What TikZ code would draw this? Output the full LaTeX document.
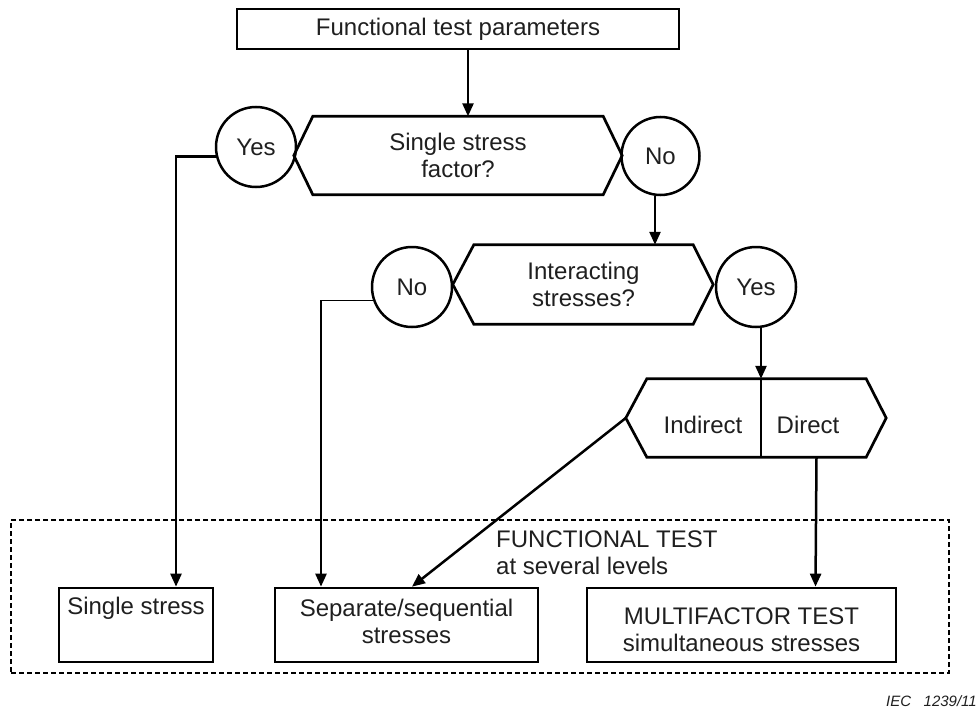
\documentclass[tikz,border=0pt]{standalone}
\usepackage{fontspec}
\setmainfont{Liberation Sans}
\usetikzlibrary{arrows.meta}
\begin{document}
\begin{tikzpicture}[x=1pt,y=-1pt,
  every node/.style={font=\fontsize{24}{27}\selectfont, inner sep=0pt, text=black!88},
  box/.style={draw, rectangle, line width=2.7pt},
  hexbody/.style={rectangle, align=center, minimum height=78},
  shapeline/.style={line width=2.7pt, line join=miter},
  answer/.style={draw, circle, line width=2.5pt, minimum size=80},
  txt/.style={align=center},
  arr/.style={line width=2.5pt, -{Triangle[length=13pt,width=11pt]}},
  link/.style={line width=2.5pt},
  thinlink/.style={line width=1.4pt},
  frame/.style={draw, rectangle, line width=2.2pt, dash pattern=on 5pt off 3pt}
]
\useasboundingbox (0,0) rectangle (979,709);

% start box
\node[box, minimum width=442, minimum height=40] (top) at (458,29) {Functional test parameters};

% first decision
\node[hexbody, minimum width=290] (h1) at (458,155.5) {Single stress\\factor?};
\draw[shapeline] (h1.north west) -- (h1.north east) -- ([xshift=19pt]h1.east)
  -- (h1.south east) -- (h1.south west) -- ([xshift=-19pt]h1.west) -- cycle;
\node[answer] (yes1) at (256,147) {Yes};
\node[answer, minimum size=78] (no1) at (660.5,156) {No};

% second decision
\node[hexbody, minimum width=219, minimum height=79] (h2) at (583.5,284.5) {Interacting\\stresses?};
\draw[shapeline] (h2.north west) -- (h2.north east) -- ([xshift=20pt]h2.east)
  -- (h2.south east) -- (h2.south west) -- ([xshift=-21pt]h2.west) -- cycle;
\node[answer] (no2) at (412,287) {No};
\node[answer] (yes2) at (756,287) {Yes};

% indirect / direct split
\node[hexbody, minimum width=219] (h3) at (756.5,418) {};
\draw[shapeline] (h3.north west) -- (h3.north east) -- ([xshift=20pt]h3.east)
  -- (h3.south east) -- (h3.south west) -- ([xshift=-21pt]h3.west) -- cycle;
\coordinate (h3tip) at ([xshift=-21pt]h3.west);
\draw[thinlink] ([xshift=4.5pt]h3.north) -- ([xshift=4.5pt]h3.south);
\node[anchor=base] (ind) at (703,433) {Indirect};
\node[anchor=base] (dir) at (808,433) {Direct};

% outcome group
\node[frame, minimum width=938, minimum height=153] (grp) at (480,596.5) {};
\node[txt, align=left, anchor=west] (grpt) at (496,552.5) {FUNCTIONAL TEST\\at several levels};

\node[box, minimum width=154, minimum height=74] (s1) at (136,625) {};
\node[txt] (s1t) at (136,608.5) {Single stress};
\node[box, minimum width=263, minimum height=74] (s2) at (406.5,625) {};
\node[txt] (s2t) at (406.5,621.5) {Separate/sequential\\stresses};
\node[box, minimum width=309, minimum height=74] (s3) at (741.5,625) {};
\node[txt] (s3t) at (741.5,630) {MULTIFACTOR TEST\\simultaneous stresses};

% connectors
\draw[arr] ([xshift=10pt]top.south) -- ([xshift=10pt]top.south |- h1.north);
\draw[arr] (yes1.193) -| ([xshift=40pt]s1.north);
\draw[arr] ([xshift=-5.5pt]no1.south) -- ([xshift=-5.5pt]no1.south |- h2.north);
\coordinate (k2) at ([xshift=-85.5pt]s2.north |- no2.199);
\draw[thinlink] (no2.199) -- (k2);
\draw[arr] (k2) -- ([xshift=-85.5pt]s2.north);
\draw[arr] ([xshift=5pt]yes2.south) -- ([xshift=4.5pt]h3.north);
\draw[arr] (h3tip) -- ([xshift=5.5pt]s2.north);
\draw[arr] ([xshift=60pt]h3.south) -- ([xshift=74pt]s3.north);

% figure reference
\node[anchor=base east, font=\fontsize{15}{18}\selectfont\itshape] (ref) at (977,706) {IEC\ \ \ 1239/11};
\end{tikzpicture}
\end{document}
